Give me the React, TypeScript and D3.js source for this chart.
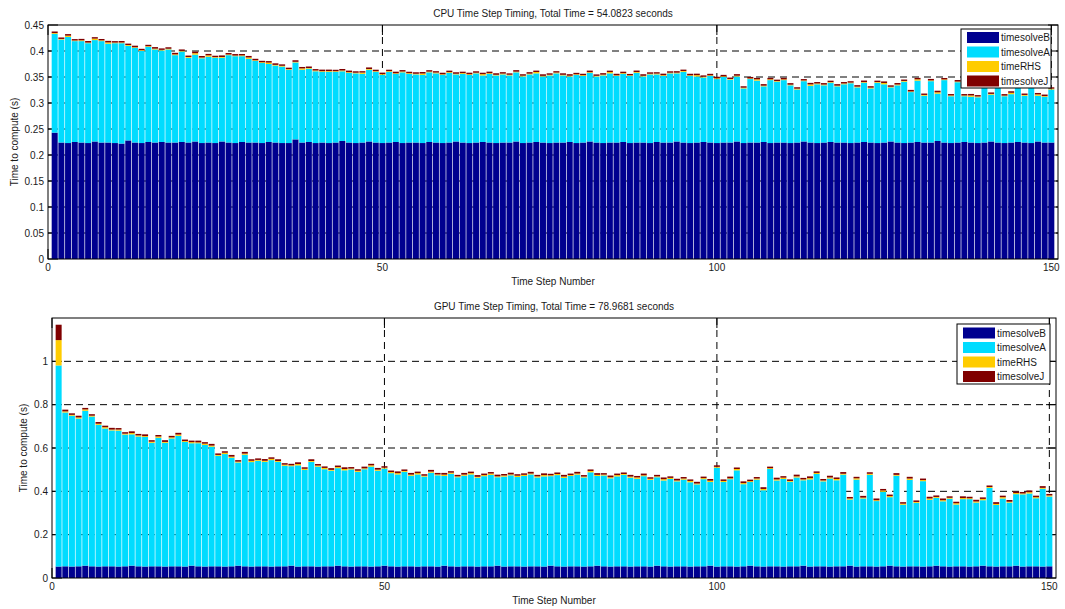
import React from 'react';
import * as d3 from 'd3';

// Time step indices (categories on the x axis)
const stepNumbers: number[] = Array.from({ length: 150 }, (_, i) => i + 1);

const seriesNames = ['timesolveB', 'timesolveA', 'timeRHS', 'timesolveJ'];
const seriesColors = ['#00008f', '#00dcff', '#ffcc00', '#800000'];

const xTicks = [0, 50, 100, 150];
const cpuYTicks = [0, 0.05, 0.1, 0.15, 0.2, 0.25, 0.3, 0.35, 0.4, 0.45];
const gpuYTicks = [0, 0.2, 0.4, 0.6, 0.8, 1];

// ---------- CPU timings (seconds) ----------
const cpuSolveB = [
  0.243, 0.224, 0.223, 0.225, 0.224, 0.223, 0.226, 0.224, 0.224, 0.223, 0.222, 0.228, 0.224, 0.223, 0.225, 0.224, 0.225, 0.224, 0.224, 0.225,
  0.224, 0.226, 0.223, 0.224, 0.223, 0.226, 0.224, 0.223, 0.225, 0.224, 0.224, 0.223, 0.225, 0.224, 0.223, 0.223, 0.230, 0.224, 0.225, 0.223,
  0.224, 0.223, 0.224, 0.227, 0.224, 0.223, 0.224, 0.226, 0.224, 0.223, 0.224, 0.225, 0.223, 0.224, 0.224, 0.223, 0.225, 0.224, 0.223, 0.224,
  0.226, 0.224, 0.223, 0.224, 0.225, 0.224, 0.223, 0.224, 0.224, 0.226, 0.223, 0.224, 0.225, 0.224, 0.223, 0.224, 0.224, 0.225, 0.223, 0.224,
  0.226, 0.224, 0.223, 0.224, 0.224, 0.225, 0.223, 0.224, 0.224, 0.223, 0.225, 0.224, 0.224, 0.226, 0.224, 0.223, 0.224, 0.225, 0.224, 0.223,
  0.224, 0.224, 0.226, 0.223, 0.224, 0.224, 0.225, 0.223, 0.224, 0.224, 0.223, 0.224, 0.226, 0.224, 0.223, 0.224, 0.225, 0.224, 0.224, 0.223,
  0.224, 0.225, 0.224, 0.223, 0.224, 0.226, 0.224, 0.223, 0.224, 0.225, 0.224, 0.224, 0.227, 0.224, 0.223, 0.224, 0.225, 0.224, 0.223, 0.224,
  0.226, 0.224, 0.223, 0.224, 0.225, 0.224, 0.223, 0.226, 0.224, 0.224,
];
const cpuSolveA = [
  0.190, 0.198, 0.204, 0.194, 0.195, 0.192, 0.195, 0.195, 0.190, 0.192, 0.193, 0.182, 0.182, 0.177, 0.183, 0.179, 0.176, 0.179, 0.168, 0.174,
  0.163, 0.167, 0.163, 0.165, 0.164, 0.161, 0.168, 0.167, 0.165, 0.161, 0.157, 0.154, 0.150, 0.148, 0.147, 0.141, 0.148, 0.140, 0.141, 0.138,
  0.136, 0.137, 0.136, 0.134, 0.134, 0.134, 0.132, 0.138, 0.136, 0.131, 0.136, 0.131, 0.136, 0.132, 0.131, 0.131, 0.134, 0.133, 0.131, 0.134,
  0.129, 0.132, 0.131, 0.133, 0.128, 0.132, 0.130, 0.131, 0.129, 0.133, 0.128, 0.131, 0.132, 0.127, 0.130, 0.133, 0.129, 0.126, 0.131, 0.128,
  0.132, 0.127, 0.130, 0.133, 0.128, 0.131, 0.129, 0.134, 0.127, 0.132, 0.130, 0.128, 0.133, 0.131, 0.136, 0.129, 0.127, 0.124, 0.128, 0.123,
  0.126, 0.121, 0.125, 0.105, 0.122, 0.119, 0.107, 0.121, 0.117, 0.120, 0.111, 0.102, 0.116, 0.109, 0.113, 0.110, 0.114, 0.108, 0.112, 0.115,
  0.106, 0.114, 0.104, 0.116, 0.112, 0.104, 0.110, 0.118, 0.097, 0.118, 0.090, 0.118, 0.091, 0.120, 0.090, 0.116, 0.088, 0.088, 0.088, 0.115,
  0.090, 0.115, 0.090, 0.093, 0.115, 0.090, 0.115, 0.088, 0.088, 0.102,
];
const cpuRHS = [
  0.0015, 0.0012, 0.0025, 0.0012, 0.0015, 0.0012, 0.0028, 0.0014, 0.0025, 0.0012, 0.0013, 0.0015, 0.0012, 0.0014, 0.0012, 0.0015, 0.0012, 0.0013, 0.0015, 0.0012,
  0.0015, 0.0028, 0.0014, 0.0026, 0.0012, 0.0015, 0.0013, 0.0012, 0.0015, 0.0025, 0.0012, 0.0014, 0.0027, 0.0013, 0.0015, 0.0012, 0.0012, 0.0025, 0.0013, 0.0015,
  0.0012, 0.0014, 0.0012, 0.0015, 0.0013, 0.0012, 0.0025, 0.0014, 0.0012, 0.0015, 0.0013, 0.0012, 0.0015, 0.0014, 0.0012, 0.0026, 0.0013, 0.0015, 0.0012, 0.0014,
  0.0012, 0.0015, 0.0013, 0.0012, 0.0025, 0.0014, 0.0012, 0.0015, 0.0013, 0.0012, 0.0015, 0.0014, 0.0026, 0.0012, 0.0013, 0.0015, 0.0012, 0.0014, 0.0012, 0.0015,
  0.0013, 0.0012, 0.0015, 0.0025, 0.0012, 0.0014, 0.0012, 0.0015, 0.0013, 0.0012, 0.0015, 0.0014, 0.0012, 0.0013, 0.0015, 0.0012, 0.0026, 0.0014, 0.0012, 0.0015,
  0.0013, 0.0012, 0.0015, 0.0014, 0.0012, 0.0025, 0.0013, 0.0015, 0.0012, 0.0014, 0.0012, 0.0015, 0.0013, 0.0027, 0.0015, 0.0014, 0.0012, 0.0013, 0.0015, 0.0012,
  0.0014, 0.0012, 0.0015, 0.0013, 0.0025, 0.0012, 0.0015, 0.0014, 0.0012, 0.0025, 0.0015, 0.0014, 0.0026, 0.0013, 0.0015, 0.0012, 0.0014, 0.0025, 0.0015, 0.0012,
  0.0015, 0.0013, 0.0012, 0.0026, 0.0014, 0.0015, 0.0012, 0.0025, 0.0013, 0.0015,
];
const cpuSolveJ = [
  0.0030, 0.0028, 0.0030, 0.0027, 0.0028, 0.0030, 0.0028, 0.0027, 0.0030, 0.0028, 0.0029, 0.0027, 0.0030, 0.0028, 0.0027, 0.0030, 0.0028, 0.0029, 0.0030, 0.0028,
  0.0027, 0.0029, 0.0030, 0.0028, 0.0027, 0.0030, 0.0028, 0.0029, 0.0027, 0.0030, 0.0028, 0.0027, 0.0029, 0.0030, 0.0028, 0.0027, 0.0030, 0.0028, 0.0029, 0.0027,
  0.0030, 0.0028, 0.0027, 0.0029, 0.0030, 0.0028, 0.0027, 0.0030, 0.0028, 0.0029, 0.0027, 0.0030, 0.0028, 0.0027, 0.0029, 0.0030, 0.0028, 0.0027, 0.0030, 0.0028,
  0.0029, 0.0027, 0.0030, 0.0028, 0.0027, 0.0029, 0.0030, 0.0028, 0.0027, 0.0030, 0.0028, 0.0029, 0.0027, 0.0030, 0.0028, 0.0027, 0.0029, 0.0030, 0.0028, 0.0027,
  0.0030, 0.0028, 0.0029, 0.0027, 0.0030, 0.0028, 0.0027, 0.0029, 0.0030, 0.0028, 0.0027, 0.0030, 0.0028, 0.0029, 0.0027, 0.0030, 0.0028, 0.0027, 0.0029, 0.0030,
  0.0028, 0.0027, 0.0030, 0.0028, 0.0029, 0.0027, 0.0030, 0.0028, 0.0027, 0.0029, 0.0030, 0.0028, 0.0027, 0.0030, 0.0028, 0.0029, 0.0027, 0.0030, 0.0028, 0.0027,
  0.0029, 0.0030, 0.0028, 0.0027, 0.0030, 0.0028, 0.0029, 0.0027, 0.0030, 0.0028, 0.0027, 0.0029, 0.0030, 0.0028, 0.0027, 0.0030, 0.0028, 0.0029, 0.0027, 0.0030,
  0.0028, 0.0027, 0.0029, 0.0030, 0.0028, 0.0027, 0.0030, 0.0028, 0.0029, 0.0027,
];

// ---------- GPU timings (seconds) ----------
const gpuSolveB = [
  0.053, 0.054, 0.053, 0.054, 0.057, 0.054, 0.053, 0.054, 0.054, 0.053, 0.054, 0.057, 0.054, 0.053, 0.054, 0.054, 0.053, 0.054, 0.054, 0.053,
  0.057, 0.054, 0.053, 0.054, 0.054, 0.053, 0.054, 0.057, 0.054, 0.053, 0.054, 0.054, 0.053, 0.054, 0.054, 0.057, 0.053, 0.054, 0.054, 0.053,
  0.054, 0.054, 0.057, 0.054, 0.053, 0.054, 0.054, 0.053, 0.054, 0.057, 0.054, 0.053, 0.054, 0.054, 0.053, 0.054, 0.054, 0.053, 0.057, 0.054,
  0.053, 0.054, 0.054, 0.053, 0.054, 0.054, 0.057, 0.053, 0.054, 0.054, 0.053, 0.054, 0.054, 0.053, 0.057, 0.054, 0.053, 0.054, 0.054, 0.053,
  0.054, 0.057, 0.054, 0.053, 0.054, 0.054, 0.053, 0.054, 0.054, 0.053, 0.057, 0.054, 0.053, 0.054, 0.054, 0.053, 0.054, 0.054, 0.057, 0.053,
  0.054, 0.054, 0.053, 0.054, 0.057, 0.054, 0.053, 0.054, 0.054, 0.053, 0.054, 0.054, 0.057, 0.053, 0.054, 0.054, 0.053, 0.054, 0.054, 0.057,
  0.053, 0.054, 0.054, 0.053, 0.054, 0.057, 0.054, 0.053, 0.054, 0.054, 0.053, 0.054, 0.057, 0.054, 0.053, 0.054, 0.054, 0.053, 0.054, 0.057,
  0.054, 0.053, 0.054, 0.054, 0.057, 0.053, 0.054, 0.054, 0.053, 0.054,
];
const gpuSolveA = [
  0.928, 0.710, 0.696, 0.682, 0.715, 0.691, 0.654, 0.636, 0.627, 0.627, 0.608, 0.606, 0.599, 0.598, 0.570, 0.593, 0.571, 0.590, 0.602, 0.575,
  0.565, 0.568, 0.561, 0.552, 0.510, 0.519, 0.501, 0.476, 0.515, 0.482, 0.487, 0.482, 0.491, 0.482, 0.464, 0.459, 0.467, 0.445, 0.482, 0.461,
  0.448, 0.441, 0.450, 0.443, 0.448, 0.436, 0.448, 0.461, 0.441, 0.448, 0.430, 0.425, 0.436, 0.418, 0.425, 0.414, 0.432, 0.421, 0.414, 0.427,
  0.412, 0.418, 0.424, 0.410, 0.416, 0.422, 0.408, 0.415, 0.420, 0.412, 0.418, 0.424, 0.410, 0.416, 0.413, 0.421, 0.409, 0.417, 0.423, 0.411,
  0.434, 0.414, 0.419, 0.407, 0.415, 0.422, 0.410, 0.404, 0.416, 0.400, 0.408, 0.396, 0.404, 0.392, 0.400, 0.389, 0.378, 0.402, 0.386, 0.456,
  0.389, 0.402, 0.444, 0.379, 0.386, 0.400, 0.352, 0.449, 0.396, 0.404, 0.390, 0.410, 0.394, 0.402, 0.426, 0.392, 0.406, 0.397, 0.423, 0.305,
  0.401, 0.313, 0.422, 0.302, 0.344, 0.316, 0.418, 0.285, 0.399, 0.293, 0.394, 0.307, 0.313, 0.300, 0.313, 0.285, 0.310, 0.311, 0.294, 0.302,
  0.362, 0.284, 0.313, 0.294, 0.330, 0.333, 0.336, 0.314, 0.359, 0.322,
];
const gpuRHS = [
  0.117, 0.005, 0.004, 0.005, 0.006, 0.004, 0.005, 0.006, 0.004, 0.005, 0.004, 0.006, 0.005, 0.004, 0.005, 0.006, 0.004, 0.005, 0.006, 0.004,
  0.005, 0.004, 0.006, 0.005, 0.004, 0.006, 0.005, 0.004, 0.005, 0.006, 0.004, 0.005, 0.006, 0.004, 0.005, 0.004, 0.006, 0.005, 0.004, 0.005,
  0.006, 0.004, 0.005, 0.006, 0.004, 0.005, 0.004, 0.006, 0.005, 0.004, 0.005, 0.006, 0.004, 0.005, 0.006, 0.004, 0.005, 0.004, 0.006, 0.005,
  0.004, 0.005, 0.006, 0.004, 0.005, 0.006, 0.004, 0.005, 0.004, 0.006, 0.005, 0.004, 0.005, 0.006, 0.004, 0.005, 0.006, 0.004, 0.005, 0.004,
  0.006, 0.005, 0.004, 0.005, 0.006, 0.004, 0.005, 0.006, 0.004, 0.005, 0.004, 0.006, 0.005, 0.004, 0.005, 0.006, 0.004, 0.005, 0.006, 0.004,
  0.005, 0.004, 0.006, 0.005, 0.004, 0.005, 0.006, 0.004, 0.005, 0.006, 0.004, 0.005, 0.004, 0.006, 0.005, 0.004, 0.005, 0.006, 0.004, 0.005,
  0.006, 0.004, 0.005, 0.004, 0.006, 0.005, 0.004, 0.005, 0.006, 0.004, 0.005, 0.006, 0.004, 0.005, 0.004, 0.006, 0.005, 0.004, 0.005, 0.006,
  0.004, 0.005, 0.006, 0.004, 0.005, 0.004, 0.006, 0.005, 0.004, 0.005,
];
const gpuSolveJ = [
  0.071, 0.008, 0.007, 0.008, 0.007, 0.007, 0.008, 0.007, 0.008, 0.007, 0.007, 0.008, 0.007, 0.008, 0.007, 0.007, 0.008, 0.007, 0.008, 0.007,
  0.007, 0.008, 0.007, 0.008, 0.007, 0.007, 0.008, 0.007, 0.008, 0.007, 0.007, 0.008, 0.007, 0.008, 0.007, 0.007, 0.008, 0.007, 0.008, 0.007,
  0.007, 0.008, 0.007, 0.008, 0.007, 0.007, 0.008, 0.007, 0.008, 0.007, 0.007, 0.008, 0.007, 0.008, 0.007, 0.007, 0.008, 0.007, 0.008, 0.007,
  0.007, 0.008, 0.007, 0.008, 0.007, 0.007, 0.008, 0.007, 0.008, 0.007, 0.007, 0.008, 0.007, 0.008, 0.007, 0.007, 0.008, 0.007, 0.008, 0.007,
  0.007, 0.008, 0.007, 0.008, 0.007, 0.007, 0.008, 0.007, 0.008, 0.007, 0.007, 0.008, 0.007, 0.008, 0.007, 0.007, 0.008, 0.007, 0.008, 0.007,
  0.007, 0.008, 0.007, 0.008, 0.007, 0.007, 0.008, 0.007, 0.008, 0.007, 0.007, 0.008, 0.007, 0.008, 0.007, 0.007, 0.008, 0.007, 0.008, 0.007,
  0.007, 0.008, 0.007, 0.008, 0.007, 0.007, 0.008, 0.007, 0.008, 0.007, 0.007, 0.008, 0.007, 0.008, 0.007, 0.007, 0.008, 0.007, 0.008, 0.007,
  0.007, 0.008, 0.007, 0.008, 0.007, 0.007, 0.008, 0.007, 0.008, 0.007,
];

const FONT = '"Liberation Sans", Arial, Helvetica, sans-serif';
const TEXT = '#1a1a1a';
const BAR_WIDTH = 0.9;
const TICK_LEN = 10;

type Box = { left: number; right: number; top: number; bottom: number };
type LegendBox = { x: number; y: number; w: number; h: number; swX: number; textX: number; rowY: number[] };

interface PanelProps {
  title: string;
  box: Box;
  yMax: number;
  yTicks: number[];
  series: number[][];
  legend: LegendBox;
  yLabelX: number;
  titleY: number;
  tickLabelY: number;
  xLabelY: number;
}

const fmt = (v: number) => String(+v.toFixed(2));

function Panel({ title, box, yMax, yTicks, series, legend, yLabelX, titleY, tickLabelY, xLabelY }: PanelProps) {
  const x = d3.scaleLinear().domain([0, 151]).range([box.left, box.right]);
  const y = d3.scaleLinear().domain([0, yMax]).range([box.bottom, box.top]);

  const table = stepNumbers.map((step, i) => {
    const row: Record<string, number> = { step };
    seriesNames.forEach((name, k) => (row[name] = series[k][i]));
    return row;
  });
  const layers = d3.stack<Record<string, number>>().keys(seriesNames)(table);

  const dash = '7,5';
  const cx = (box.left + box.right) / 2;
  const cy = (box.top + box.bottom) / 2;
  const barW = x(BAR_WIDTH) - x(0);

  return (
    <g>
      <text x={cx} y={titleY} textAnchor="middle" fontSize={10} fill={TEXT} fontFamily={FONT}>
        {title}
      </text>

      {/* grid lines sit beneath the bars */}
      {yTicks.filter((t) => t > 0 && t < yMax).map((t) => (
        <line key={'gy' + t} x1={box.left} x2={box.right} y1={y(t)} y2={y(t)} stroke="#000" strokeWidth={1} strokeDasharray={dash} />
      ))}
      {xTicks.filter((t) => t > 0).map((t) => (
        <line key={'gx' + t} x1={x(t)} x2={x(t)} y1={box.top} y2={box.bottom} stroke="#000" strokeWidth={1} strokeDasharray={dash} />
      ))}

      {/* tick marks, inward on all four sides */}
      {yTicks.map((t) => (
        <g key={'ty' + t}>
          <line x1={box.left} x2={box.left + TICK_LEN} y1={y(t)} y2={y(t)} stroke="#000" />
          <line x1={box.right - TICK_LEN} x2={box.right} y1={y(t)} y2={y(t)} stroke="#000" />
        </g>
      ))}
      {xTicks.map((t) => (
        <g key={'tx' + t}>
          <line x1={x(t)} x2={x(t)} y1={box.bottom} y2={box.bottom - TICK_LEN} stroke="#000" />
          <line x1={x(t)} x2={x(t)} y1={box.top} y2={box.top + TICK_LEN} stroke="#000" />
        </g>
      ))}

      {/* stacked bars */}
      {layers.map((layer, k) => (
        <g key={layer.key} fill={seriesColors[k]}>
          {layer.map((d, i) => {
            const step = stepNumbers[i];
            const y0 = y(d[0]);
            const y1 = y(d[1]);
            return <rect key={i} x={x(step - BAR_WIDTH / 2)} width={barW} y={y1} height={Math.max(0, y0 - y1)} />;
          })}
        </g>
      ))}

      {/* axes box */}
      <rect x={box.left} y={box.top} width={box.right - box.left} height={box.bottom - box.top} fill="none" stroke="#000" strokeWidth={1} />

      {/* tick labels */}
      {yTicks.map((t) => (
        <text key={'ly' + t} x={box.left - 4} y={y(t) + 3.5} textAnchor="end" fontSize={10} fill={TEXT} fontFamily={FONT}>
          {fmt(t)}
        </text>
      ))}
      {xTicks.map((t) => (
        <text key={'lx' + t} x={x(t)} y={tickLabelY} textAnchor="middle" fontSize={10} fill={TEXT} fontFamily={FONT}>
          {t}
        </text>
      ))}

      <text x={cx} y={xLabelY} textAnchor="middle" fontSize={10} fill={TEXT} fontFamily={FONT}>
        Time Step Number
      </text>
      <text transform={`translate(${yLabelX},${cy}) rotate(-90)`} textAnchor="middle" fontSize={10} fill={TEXT} fontFamily={FONT}>
        Time to compute (s)
      </text>

      {/* legend */}
      <rect x={legend.x} y={legend.y} width={legend.w} height={legend.h} fill="#fff" stroke="#000" strokeWidth={1} />
      {seriesNames.map((name, k) => (
        <g key={'lg' + name}>
          <rect x={legend.swX} y={legend.rowY[k] - 5.5} width={32} height={11} fill={seriesColors[k]} />
          <text x={legend.textX} y={legend.rowY[k] + 3.5} fontSize={10} fill={TEXT} fontFamily={FONT}>
            {name}
          </text>
        </g>
      ))}
    </g>
  );
}

export default function App() {
  return (
    <svg width={1065} height={609} style={{ position: 'absolute', left: 0, top: 0, background: '#fff' }}>
      <rect x={0} y={0} width={1065} height={609} fill="#fff" />
      <Panel
        title="CPU Time Step Timing, Total Time = 54.0823 seconds"
        box={{ left: 48, right: 1058, top: 25, bottom: 259 }}
        yMax={0.45}
        yTicks={cpuYTicks}
        series={[cpuSolveB, cpuSolveA, cpuRHS, cpuSolveJ]}
        legend={{ x: 961, y: 29, w: 90, h: 59, swX: 967, textX: 1001, rowY: [37.5, 52, 66.5, 81] }}
        yLabelX={18}
        titleY={17}
        tickLabelY={271}
        xLabelY={285}
      />
      <Panel
        title="GPU Time Step Timing, Total Time = 78.9681 seconds"
        box={{ left: 52, right: 1056, top: 318, bottom: 578 }}
        yMax={1.2}
        yTicks={gpuYTicks}
        series={[gpuSolveB, gpuSolveA, gpuRHS, gpuSolveJ]}
        legend={{ x: 957, y: 324, w: 93, h: 60, swX: 963, textX: 997, rowY: [333, 347.5, 362, 376.5] }}
        yLabelX={27}
        titleY={310}
        tickLabelY={590}
        xLabelY={604}
      />
    </svg>
  );
}
